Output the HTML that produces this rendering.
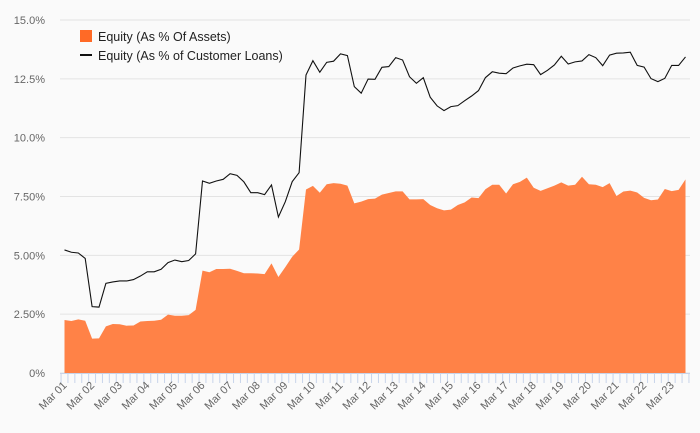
<!DOCTYPE html>
<html><head><meta charset="utf-8"><style>
body{margin:0;background:#fafafa;font-family:"Liberation Sans",sans-serif;}
svg{display:block}
</style></head><body>
<svg id="chart" width="700" height="433" xmlns="http://www.w3.org/2000/svg">
<rect width="700" height="433" fill="#fafafa"/>
<g id="grid"></g><g id="series"></g><g id="axes"></g>
<g>
<rect x="80" y="30" width="12" height="12" fill="#ff6a26"/>
<text x="98" y="41" font-size="12.5" fill="#222">Equity (As % Of Assets)</text>
<rect x="80" y="54" width="12" height="2" fill="#111"/>
<text x="98" y="60" font-size="12.5" fill="#222">Equity (As % of Customer Loans)</text>
</g>
</svg>
<script>
const assets=[2.25,2.21,2.28,2.22,1.46,1.47,1.98,2.08,2.07,2.01,2.02,2.19,2.21,2.22,2.26,2.48,2.43,2.43,2.46,2.68,4.35,4.28,4.42,4.42,4.43,4.34,4.24,4.24,4.23,4.2,4.66,4.08,4.5,4.94,5.25,7.8,7.95,7.66,8.02,8.07,8.04,7.96,7.21,7.28,7.39,7.41,7.58,7.65,7.72,7.72,7.38,7.38,7.39,7.14,7.0,6.91,6.94,7.14,7.25,7.46,7.43,7.81,8.0,8.0,7.63,8.02,8.12,8.3,7.87,7.74,7.85,7.96,8.1,7.96,8.0,8.34,8.02,8.0,7.9,8.07,7.52,7.71,7.75,7.67,7.44,7.34,7.37,7.82,7.73,7.78,8.23];
const loans=[5.23,5.13,5.1,4.87,2.82,2.8,3.81,3.87,3.91,3.91,3.97,4.12,4.3,4.3,4.41,4.69,4.8,4.73,4.78,5.06,8.16,8.06,8.16,8.23,8.47,8.4,8.12,7.66,7.66,7.58,7.99,6.63,7.28,8.13,8.51,12.66,13.27,12.78,13.2,13.25,13.56,13.49,12.17,11.89,12.49,12.48,12.99,13.02,13.4,13.3,12.59,12.31,12.55,11.72,11.35,11.15,11.32,11.36,11.57,11.77,12.0,12.55,12.8,12.74,12.72,12.96,13.05,13.12,13.1,12.68,12.86,13.09,13.46,13.13,13.22,13.26,13.53,13.4,13.06,13.51,13.59,13.6,13.63,13.07,13.0,12.51,12.38,12.52,13.07,13.07,13.43];
const yTicks=[0,2.5,5,7.5,10,12.5,15];
const yTickLabels=["0%","2.50%","5.00%","7.50%","10.0%","12.5%","15.0%"];
const xLabels=["Mar 01","Mar 02","Mar 03","Mar 04","Mar 05","Mar 06","Mar 07","Mar 08","Mar 09","Mar 10","Mar 11","Mar 12","Mar 13","Mar 14","Mar 15","Mar 16","Mar 17","Mar 18","Mar 19","Mar 20","Mar 21","Mar 22","Mar 23"];
const NS="http://www.w3.org/2000/svg";
const x0=64.5,step=(685.5-64.5)/(assets.length-1);
const X=i=>x0+i*step;
const Y=v=>373-v*(353/15);
function mk(t,a,p){const e=document.createElementNS(NS,t);for(const k in a)e.setAttribute(k,a[k]);p.appendChild(e);return e;}
const grid=document.getElementById('grid'),ser=document.getElementById('series'),ax=document.getElementById('axes');
yTicks.forEach((v,i)=>{
 const l=mk('line',{x1:60,x2:690,y1:Y(v),y2:Y(v),stroke:'#e3e3e3','stroke-width':1},grid);
 
 
 const t=mk('text',{x:45,y:Y(v)+4,'text-anchor':'end','font-size':11,fill:'#666'},ax);
 
 
 t.textContent=yTickLabels[i];
});
let d='M'+X(0)+','+Y(0);
assets.forEach((v,i)=>{d+=' L'+X(i).toFixed(2)+','+Y(v).toFixed(2);});
d+=' L'+X(assets.length-1)+','+Y(0)+' Z';
const area=mk('path',{d:d,fill:'#ff8247'},ser);


const line=mk('polyline',{points:loans.map((v,i)=>X(i).toFixed(2)+','+Y(v).toFixed(2)).join(' '),fill:'none',stroke:'#111','stroke-width':1.1},ser);


for(let i=0;i<=assets.length;i++){
 const tx=x0-step/2+i*step;
 const tk=mk('line',{x1:tx,x2:tx,y1:373,y2:383,stroke:'#c8d4ea','stroke-width':1},ax);
 
 
}
mk('line',{x1:60,x2:690,y1:373.5,y2:373.5,stroke:'#c8d4ea'},ax);
xLabels.forEach((s,j)=>{
 const tx=X(j*4)+3,ty=386;
 const t=mk('text',{x:tx,y:ty,'text-anchor':'end','font-size':11,fill:'#666',transform:'rotate(-45 '+tx+' '+ty+')'},ax);
 
 
 t.textContent=s;
});
</script>
</body></html>
